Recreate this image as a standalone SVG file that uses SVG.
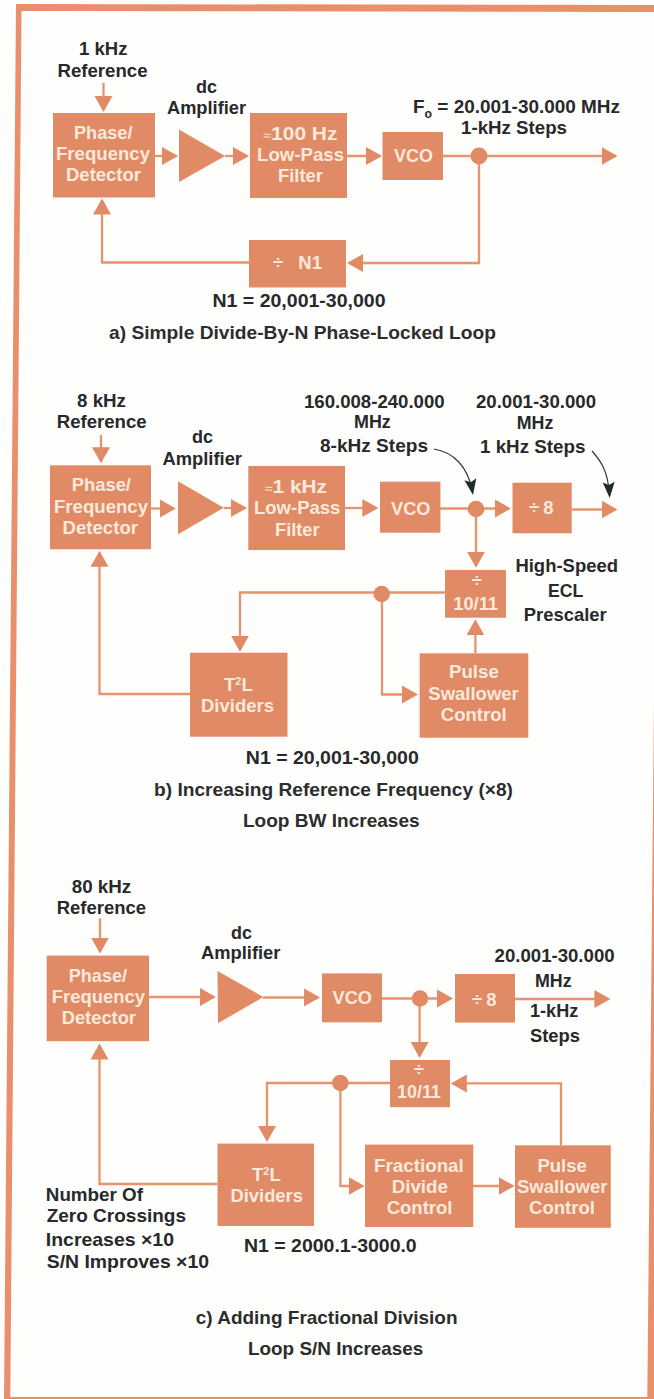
<svg xmlns="http://www.w3.org/2000/svg" width="654" height="1399" viewBox="0 0 654 1399">
<defs>
<style>
.box{fill:#e08b65}
.band{fill:#e98f6c}
.amp{fill:#e08b65}
.dot{fill:#e08b65}
.wire{fill:none;stroke:#e6936e;stroke-width:2.3}
.note{fill:none;stroke:#2c3a3a;stroke-width:1.2}
text{font-family:"Liberation Sans",Arial,sans-serif;font-size:18.5px;font-weight:700}
.d{fill:#27292a}
.w{fill:#fbe9dc}
.c{fill:#2c2d2e;font-weight:700}
.sym{font-size:13px;font-weight:400}
</style>
<marker id="head" markerUnits="userSpaceOnUse" markerWidth="18" markerHeight="20" refX="14" refY="9.5" orient="auto"><path d="M0 0.5L16 9.5L0 18.5Z" fill="#e08b65"/></marker>
<marker id="nhead" markerUnits="userSpaceOnUse" markerWidth="17" markerHeight="14" refX="13" refY="6.5" orient="auto"><path d="M0 0.5L16 6.5L0 12.5L3 6.5Z" fill="#202c2c"/></marker>
</defs>
<rect width="654" height="1399" fill="#fefefd"/>
<g id="frame">
<polygon class="band" points="16,4 654,5 654,12 21.5,11 10.3,1397 654,1397 654,1399 4,1399"/>
<polygon class="band" points="654,700 654,1399 647.3,1399"/>
</g>
<g id="connectors">
<g marker-end="url(#head)" class="wire">
<path d="M103.5 83V110"/>
<path d="M155 156H176"/>
<path d="M225 156H247"/>
<path d="M347 156H380"/>
<path d="M443 156H615.5"/>
<path d="M479 156V263H349"/>
<path d="M249 262.500H102V200.500"/>
<path d="M101 435V461.300"/>
<path d="M151 508.500H173.800"/>
<path d="M223.800 508H245"/>
<path d="M345 508H376.300"/>
<path d="M440 508.500H508.800"/>
<path d="M571.700 509.500H615.500"/>
<path d="M476 509V565.700"/>
<path d="M445 592.500H240V649.700"/>
<path d="M190 694H99.500V552.700"/>
<path d="M382 592.500V694.500H416"/>
<path d="M475.400 653V621.300"/>
<path d="M100 918.400V951.500"/>
<path d="M149 997H213.800"/>
<path d="M263 997.500H318"/>
<path d="M382 998.500H451"/>
<path d="M515 999H608.400"/>
<path d="M419.600 998.500V1056"/>
<path d="M390 1083H267V1140"/>
<path d="M217.500 1184H99.500V1045.600"/>
<path d="M340.400 1083V1186H362.600"/>
<path d="M473 1186H512.600"/>
<path d="M561 1145V1083.400H452.800"/>
</g>
<g marker-end="url(#nhead)" class="note">
<path d="M434 449C452 452 468 465 472.500 492"/>
<path d="M592 451C600 460 608 470 609.500 495"/>
</g>
<circle class="dot" cx="479" cy="156" r="8.500"/>
<circle class="dot" cx="476" cy="509" r="8.300"/>
<circle class="dot" cx="381.700" cy="594" r="8.300"/>
<circle class="dot" cx="420" cy="998.500" r="8.300"/>
<circle class="dot" cx="340.400" cy="1083" r="8.300"/>
</g>
<g id="a-labels">
<text class="d" x="79" y="55" textLength="48.500" lengthAdjust="spacingAndGlyphs">1 kHz</text>
<text class="d" x="57.500" y="76.700" textLength="90" lengthAdjust="spacingAndGlyphs">Reference</text>
<text class="d" x="196" y="92.700" textLength="21" lengthAdjust="spacingAndGlyphs">dc</text>
<text class="d" x="167" y="114" textLength="79" lengthAdjust="spacingAndGlyphs">Amplifier</text>
<text class="d" x="413" y="113" textLength="207" lengthAdjust="spacingAndGlyphs">F<tspan font-size="12" dy="4.500">o</tspan><tspan dy="-4.500"> = 20.001-30.000 MHz</tspan></text>
<text class="d" x="461" y="134" textLength="106" lengthAdjust="spacingAndGlyphs">1-kHz Steps</text>
<text class="d" x="212.500" y="306.700" textLength="173" lengthAdjust="spacingAndGlyphs">N1 = 20,001-30,000</text>
<text class="c" x="109" y="339" textLength="387" lengthAdjust="spacingAndGlyphs">a) Simple Divide-By-N  Phase-Locked Loop</text>
</g>
<g id="a-phase-detector">
<rect class="box" x="53" y="113" width="102" height="84.500"/>
<text class="w" x="74" y="139" textLength="58.500" lengthAdjust="spacingAndGlyphs">Phase/</text>
<text class="w" x="56" y="160" textLength="94" lengthAdjust="spacingAndGlyphs">Frequency</text>
<text class="w" x="66" y="181" textLength="75" lengthAdjust="spacingAndGlyphs">Detector</text>
</g>
<g id="a-amplifier"><polygon class="amp" points="179,129.500 225,156 179,182"/></g>
<g id="a-filter">
<rect class="box" x="250" y="113" width="97" height="85"/>
<text class="w" x="263" y="140" textLength="74.500" lengthAdjust="spacingAndGlyphs"><tspan class="sym">≈</tspan>100 Hz</text>
<text class="w" x="257" y="161" textLength="87" lengthAdjust="spacingAndGlyphs">Low-Pass</text>
<text class="w" x="278" y="182" textLength="45" lengthAdjust="spacingAndGlyphs">Filter</text>
</g>
<g id="a-vco">
<rect class="box" x="382.500" y="132" width="60.500" height="48"/>
<text class="w" x="394" y="161.700" textLength="39" lengthAdjust="spacingAndGlyphs">VCO</text>
</g>
<g id="a-divider">
<rect class="box" x="249" y="240" width="97" height="47.500"/>
<text class="w" x="273" y="268.700" word-spacing="10">÷ N1</text>
</g>
<g id="b-labels">
<text class="d" x="77" y="406.700" textLength="49" lengthAdjust="spacingAndGlyphs">8 kHz</text>
<text class="d" x="56.700" y="428.300" textLength="90" lengthAdjust="spacingAndGlyphs">Reference</text>
<text class="d" x="192" y="443" textLength="21" lengthAdjust="spacingAndGlyphs">dc</text>
<text class="d" x="162.500" y="465" textLength="79.500" lengthAdjust="spacingAndGlyphs">Amplifier</text>
<text class="d" x="304" y="407.700" textLength="140.600" lengthAdjust="spacingAndGlyphs">160.008-240.000</text>
<text class="d" x="354" y="428.300" textLength="36.800" lengthAdjust="spacingAndGlyphs">MHz</text>
<text class="d" x="320" y="451.700" textLength="108" lengthAdjust="spacingAndGlyphs">8-kHz Steps</text>
<text class="d" x="476" y="407.700" textLength="120" lengthAdjust="spacingAndGlyphs">20.001-30.000</text>
<text class="d" x="516.700" y="429.300" textLength="36.600" lengthAdjust="spacingAndGlyphs">MHz</text>
<text class="d" x="480" y="452.700" textLength="105.400" lengthAdjust="spacingAndGlyphs">1 kHz Steps</text>
<text class="d" x="515.400" y="572" textLength="102.600" lengthAdjust="spacingAndGlyphs">High-Speed</text>
<text class="d" x="548" y="596.700" textLength="35.300" lengthAdjust="spacingAndGlyphs">ECL</text>
<text class="d" x="523.800" y="620.700" textLength="82.900" lengthAdjust="spacingAndGlyphs">Prescaler</text>
<text class="d" x="245.800" y="764.300" textLength="173" lengthAdjust="spacingAndGlyphs">N1 = 20,001-30,000</text>
<text class="c" x="154" y="795.700" textLength="359" lengthAdjust="spacingAndGlyphs">b) Increasing Reference Frequency (×8)</text>
<text class="c" x="243" y="827.300" textLength="176.600" lengthAdjust="spacingAndGlyphs">Loop BW Increases</text>
</g>
<g id="b-phase-detector">
<rect class="box" x="50" y="465.300" width="101" height="84"/>
<text class="w" x="71.700" y="491" textLength="59.300" lengthAdjust="spacingAndGlyphs">Phase/</text>
<text class="w" x="54" y="512.700" textLength="94" lengthAdjust="spacingAndGlyphs">Frequency</text>
<text class="w" x="62.500" y="534.300" textLength="75.500" lengthAdjust="spacingAndGlyphs">Detector</text>
</g>
<g id="b-amplifier"><polygon class="amp" points="178,481.300 223.800,507.700 178,534.300"/></g>
<g id="b-filter">
<rect class="box" x="248.300" y="466" width="96.700" height="84"/>
<text class="w" x="264.600" y="493.300" textLength="62.400" lengthAdjust="spacingAndGlyphs"><tspan class="sym">≈</tspan>1 kHz</text>
<text class="w" x="254" y="514.300" textLength="86.400" lengthAdjust="spacingAndGlyphs">Low-Pass</text>
<text class="w" x="275" y="535.700" textLength="44.600" lengthAdjust="spacingAndGlyphs">Filter</text>
</g>
<g id="b-vco">
<rect class="box" x="380" y="481.700" width="60.400" height="51"/>
<text class="w" x="391" y="515" textLength="39.400" lengthAdjust="spacingAndGlyphs">VCO</text>
</g>
<g id="b-div8">
<rect class="box" x="512.500" y="482.700" width="59.200" height="50.600"/>
<text class="w" x="529" y="514" letter-spacing="4">÷8</text>
</g>
<g id="b-prescaler">
<rect class="box" x="445" y="570" width="61" height="47.700"/>
<text class="w" x="471.700" y="587">÷</text>
<text class="w" x="453.300" y="610" textLength="44.700" lengthAdjust="spacingAndGlyphs">10/11</text>
</g>
<g id="b-dividers">
<rect class="box" x="190" y="652.700" width="97.500" height="84"/>
<text class="w" x="224" y="690.700">T<tspan font-size="11" dy="-6">2</tspan><tspan dy="6">L</tspan></text>
<text class="w" x="201" y="711.700" textLength="73" lengthAdjust="spacingAndGlyphs">Dividers</text>
</g>
<g id="b-swallower">
<rect class="box" x="419.600" y="653.300" width="108.700" height="84.400"/>
<text class="w" x="449" y="678.300" textLength="49.800" lengthAdjust="spacingAndGlyphs">Pulse</text>
<text class="w" x="428.300" y="700" textLength="90.500" lengthAdjust="spacingAndGlyphs">Swallower</text>
<text class="w" x="440.800" y="721" textLength="65.900" lengthAdjust="spacingAndGlyphs">Control</text>
</g>
<g id="c-labels">
<text class="d" x="71.700" y="893" textLength="59.600" lengthAdjust="spacingAndGlyphs">80 kHz</text>
<text class="d" x="56.700" y="914.300" textLength="89.300" lengthAdjust="spacingAndGlyphs">Reference</text>
<text class="d" x="231" y="939" textLength="21" lengthAdjust="spacingAndGlyphs">dc</text>
<text class="d" x="201" y="959" textLength="79.400" lengthAdjust="spacingAndGlyphs">Amplifier</text>
<text class="d" x="494.600" y="962" textLength="120" lengthAdjust="spacingAndGlyphs">20.001-30.000</text>
<text class="d" x="535" y="987" textLength="36.700" lengthAdjust="spacingAndGlyphs">MHz</text>
<text class="d" x="530" y="1017" textLength="48.300" lengthAdjust="spacingAndGlyphs">1-kHz</text>
<text class="d" x="530" y="1042.200" textLength="50" lengthAdjust="spacingAndGlyphs">Steps</text>
<text class="d" x="45.800" y="1201.400" textLength="97.200" lengthAdjust="spacingAndGlyphs">Number Of</text>
<text class="d" x="46.700" y="1222" textLength="139.300" lengthAdjust="spacingAndGlyphs">Zero Crossings</text>
<text class="d" x="45.800" y="1246" textLength="128.200" lengthAdjust="spacingAndGlyphs">Increases ×10</text>
<text class="d" x="46.700" y="1268" textLength="162.300" lengthAdjust="spacingAndGlyphs">S/N Improves ×10</text>
<text class="d" x="244" y="1251.900" textLength="172.700" lengthAdjust="spacingAndGlyphs">N1 = 2000.1-3000.0</text>
<text class="c" x="195.800" y="1324" textLength="261.700" lengthAdjust="spacingAndGlyphs">c) Adding Fractional Division</text>
<text class="c" x="248" y="1355" textLength="175.300" lengthAdjust="spacingAndGlyphs">Loop S/N Increases</text>
</g>
<g id="c-phase-detector">
<rect class="box" x="46.700" y="955.600" width="102.300" height="85.600"/>
<text class="w" x="68.800" y="982" textLength="58.200" lengthAdjust="spacingAndGlyphs">Phase/</text>
<text class="w" x="51.700" y="1003" textLength="93.300" lengthAdjust="spacingAndGlyphs">Frequency</text>
<text class="w" x="61.700" y="1024.300" textLength="74.300" lengthAdjust="spacingAndGlyphs">Detector</text>
</g>
<g id="c-amplifier"><polygon class="amp" points="217.500,971 263.300,997 218,1023.300"/></g>
<g id="c-vco">
<rect class="box" x="322" y="973.400" width="60" height="48.900"/>
<text class="w" x="332.500" y="1004.400" textLength="39.500" lengthAdjust="spacingAndGlyphs">VCO</text>
</g>
<g id="c-div8">
<rect class="box" x="455" y="974" width="60" height="48.600"/>
<text class="w" x="472" y="1005.800" letter-spacing="4">÷8</text>
</g>
<g id="c-prescaler">
<rect class="box" x="390" y="1060" width="60" height="47.200"/>
<text class="w" x="413.800" y="1076">÷</text>
<text class="w" x="397" y="1097.900" textLength="43.800" lengthAdjust="spacingAndGlyphs">10/11</text>
</g>
<g id="c-dividers">
<rect class="box" x="217.500" y="1143.600" width="96.500" height="82.400"/>
<text class="w" x="252" y="1180.700">T<tspan font-size="11" dy="-6">2</tspan><tspan dy="6">L</tspan></text>
<text class="w" x="230.400" y="1202" textLength="72.600" lengthAdjust="spacingAndGlyphs">Dividers</text>
</g>
<g id="c-fractional">
<rect class="box" x="365" y="1144.600" width="108.300" height="82.400"/>
<text class="w" x="374" y="1171.800" textLength="89.800" lengthAdjust="spacingAndGlyphs">Fractional</text>
<text class="w" x="391.700" y="1193" textLength="56.300" lengthAdjust="spacingAndGlyphs">Divide</text>
<text class="w" x="386.700" y="1214.400" textLength="65.800" lengthAdjust="spacingAndGlyphs">Control</text>
</g>
<g id="c-swallower">
<rect class="box" x="515" y="1145.300" width="95.800" height="82.500"/>
<text class="w" x="537.500" y="1171.800" textLength="49.200" lengthAdjust="spacingAndGlyphs">Pulse</text>
<text class="w" x="517" y="1193" textLength="90.500" lengthAdjust="spacingAndGlyphs">Swallower</text>
<text class="w" x="529" y="1214.400" textLength="66" lengthAdjust="spacingAndGlyphs">Control</text>
</g>
</svg>
